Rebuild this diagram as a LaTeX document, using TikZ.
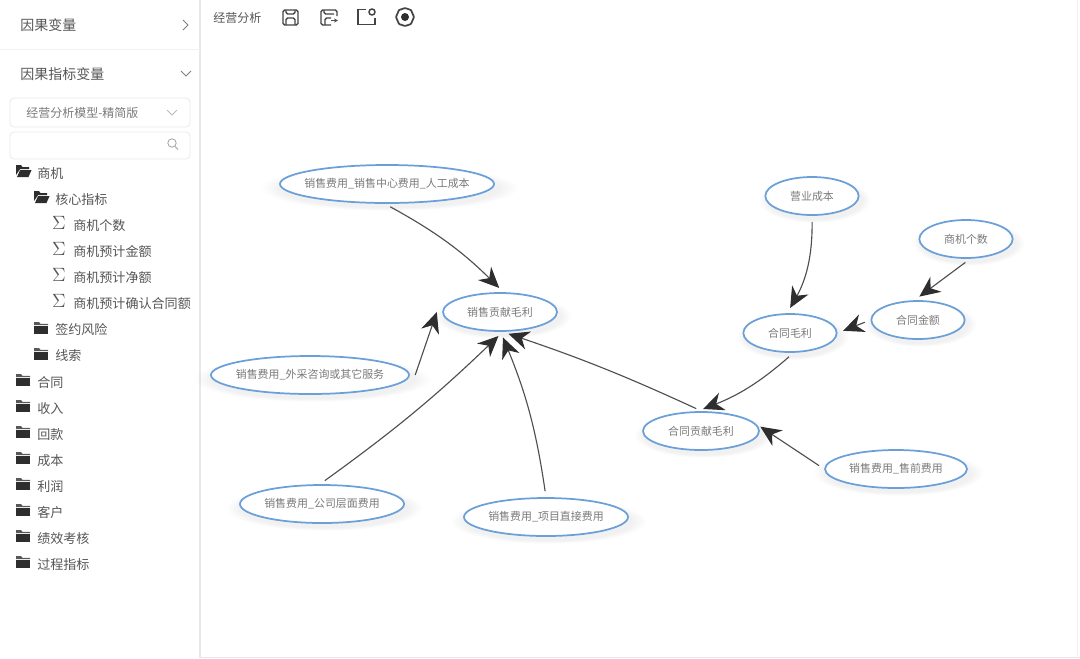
\documentclass[tikz,border=0pt]{standalone}
\usepackage{fontspec}
\setmainfont{Noto Sans CJK SC}
\usepackage{xcolor}
\usetikzlibrary{shapes.geometric,arrows.meta,shadows,fadings}
\definecolor{linkblue}{HTML}{6A9FD8}
\definecolor{edgegray}{HTML}{4F4F4F}
\definecolor{tipdark}{HTML}{2E2E2E}
\definecolor{labelgray}{HTML}{7A7A7A}
\definecolor{treegray}{HTML}{555555}
\definecolor{ruleline}{HTML}{E8E8E8}
\tikzset{
  factor/.style = {shape=ellipse, draw=linkblue, line width=1.3pt, fill=white,
                   inner xsep=-14pt, inner ysep=0pt, minimum height=28.5pt,
                   font=\fontsize{8.2}{10}\selectfont,
                   text=labelgray,
                   circular drop shadow={shadow xshift=1.5pt, shadow yshift=-2.5pt,
                     shadow scale=1.2, opacity=.11}},
  link/.style   = {draw=edgegray, line width=.85pt, shorten <=4.5pt, shorten >=4.5pt,
                   -{Stealth[length=15.5pt, width=14pt, inset=5pt, color=tipdark]}},
  treetext/.style = {anchor=west, inner sep=0pt, text=treegray, yshift=-.6pt,
                     font=\fontsize{9.8}{12}\selectfont},
  headtext/.style = {anchor=west, inner sep=0pt, text=treegray,
                     font=\fontsize{10.5}{13}\selectfont},
  chevron/.style  = {draw=gray, line width=.6pt},
  inputbox/.style = {draw=ruleline, rounded corners=3pt, line width=.6pt},
  toolicon/.style = {draw=treegray!80!black, line width=1.1pt, rounded corners=1.2pt},
  folder/.pic = {
    \fill[tipdark] (0,-2.2) -- (14,-2.2) -- (14,6) -- (0,6) -- cycle;
    \fill[tipdark!80!white] (0,-2.8) -- (0,-6) -- (5,-6) -- (6.5,-4.2) -- (14,-4.2) -- (14,-2.8) -- cycle;
  },
  openfolder/.pic = {
    \fill[tipdark] (0,4) -- (0,-6) -- (5,-6) -- (6.5,-4) -- (13,-4)
      -- (13,-1.8) -- (4,-1.8) -- cycle;
    \fill[tipdark] (4,-.8) -- (15.5,-.8) -- (12.5,6) -- (1,6) -- cycle;
  }
}
\begin{document}
\begin{tikzpicture}[x=.75pt, y=-.75pt]
  \useasboundingbox (0,0) rectangle (1080,658);
  % page frame
  \draw[ruleline, line width=.8pt] (200,0) -- (200,657.5) -- (1080,657.5);
  \draw[ruleline!60!white, line width=.6pt] (0,49) -- (200,49);
  \draw[ruleline!60!white, line width=.6pt] (1077,0) -- (1077,657);

  % side panel
  \node[headtext] (varhead) at (20,25) {因果变量};
  \node[headtext] (kpihead) at (20,74) {因果指标变量};
  \draw[chevron] (183,20) -- (188,25) -- (183,30);
  \draw[chevron] (181,71) -- (186,76) -- (191,71);
  \draw[inputbox] (10,98) rectangle (190,127);
  \draw[inputbox] (10,132) rectangle (190,159);
  \node[anchor=west, inner sep=0pt, text=labelgray, font=\fontsize{9}{11}\selectfont]
    (modelname) at (26,113) {经营分析模型-精简版};
  \draw[draw=ruleline!80!black, line width=.6pt] (167,110) -- (172,115) -- (177,110);
  \draw[draw=ruleline!70!black, line width=.6pt] (172,143) circle (4.2);
  \draw[draw=ruleline!70!black, line width=.6pt] (175,146.5) -- (178,149.5);

  % tree rows
  \foreach \rowname/\rowtext/\rowy in {
      r1/商机/173}
    \node[treetext] (\rowname) at (37,\rowy) {\rowtext};
  \foreach \rowname/\rowtext/\rowy in {
      s1/核心指标/199, s2/签约风险/329, s3/线索/355}
    \node[treetext] (\rowname) at (55,\rowy) {\rowtext};
  \foreach \rowname/\rowtext/\rowy in {
      m1/商机个数/225, m2/商机预计金额/251, m3/商机预计净额/277, m4/商机预计确认合同额/303} {
    \node[treetext] (\rowname) at (73,\rowy) {\rowtext};
    \node[anchor=center, inner sep=0pt, text=treegray, font=\fontsize{14}{14}\selectfont] (\rowname icon) at (59,\rowy-2) {$\Sigma$};
  }
  \foreach \rowname/\rowtext/\rowy in {
      c1/合同/382, c2/收入/408, c3/回款/434, c4/成本/460,
      c5/利润/486, c6/客户/512, c7/绩效考核/538, c8/过程指标/564}
    \node[treetext] (\rowname) at (37,\rowy) {\rowtext};

  % folder icons
  \pic at (16,171) {openfolder};
  \pic at (34,197) {openfolder};
  \foreach \rowy in {328,354}
    \pic at (34,\rowy) {folder};
  \foreach \rowy in {380,406,432,458,484,510,536,562}
    \pic at (16,\rowy) {folder};

  % toolbar
  \node[anchor=west, inner sep=0pt, text=treegray, font=\fontsize{9}{11}\selectfont]
    (toolname) at (213,18) {经营分析};
  \draw[toolicon] (283,10) rectangle (298,25);
  \draw[toolicon] (286,10) -- (286,14) -- (295,14) -- (295,10);
  \draw[toolicon] (286,25) -- (286,18) -- (295,18) -- (295,25);
  \draw[toolicon] (337,16) -- (337,10) -- (321,10) -- (321,25) -- (331,25);
  \draw[toolicon] (324,10) -- (324,14) -- (334,14);
  \draw[toolicon] (325,25) -- (325,18) -- (331,18);
  \draw[edgegray, line width=.8pt, -{Stealth[length=3pt,width=3pt]}] (331,20.5) -- (338,20.5);
  \draw[toolicon, rounded corners=0pt] (366,9.5) -- (358,9.5) -- (358,24.5) -- (375,24.5) -- (375,18);
  \draw[toolicon] (372,12) circle (3);
  \draw[toolicon, line width=1.3pt, rounded corners=.5pt] (405,8) -- (411,10) -- (414,17) -- (411,24)
    -- (405,26) -- (399,24) -- (396,17) -- (399,10) -- cycle;
  \fill[tipdark] (405,17) circle (4);

  % factor graph
  \node[factor, minimum width=160.5pt] (laborcost) at (387,184) {销售费用\_销售中心费用\_人工成本};
  \node[factor, minimum width=85.5pt] (salesmargin) at (500,312) {销售贡献毛利};
  \node[factor, minimum width=148.5pt] (consult) at (310,375) {销售费用\_外采咨询或其它服务};
  \node[factor, minimum width=123pt] (corpcost) at (322,504) {销售费用\_公司层面费用};
  \node[factor, minimum width=123pt] (projcost) at (546,517) {销售费用\_项目直接费用};
  \node[factor, minimum width=87pt] (contractsales) at (701,431) {合同贡献毛利};
  \node[factor, minimum width=70pt] (contractmargin) at (790,333) {合同毛利};
  \node[factor, minimum width=70pt] (opcost) at (812,196) {营业成本};
  \node[factor, minimum width=70pt] (contractamt) at (918,320) {合同金额};
  \node[factor, minimum width=70pt] (oppcount) at (966,239) {商机个数};
  \node[factor, minimum width=106.5pt] (presales) at (896,469) {销售费用\_售前费用};

  \draw[link] (laborcost.-96) to[bend left=8] (salesmargin.80);
  \draw[link, shorten <=0pt, shorten >=0pt] ([xshift=4pt]consult.east) -- ([xshift=-4pt]salesmargin.west);
  \draw[link] (corpcost.96) to[bend right=4] (salesmargin.-82);
  \draw[link] (projcost.north) to[bend right=7] (salesmargin.-88);
  \draw[link] (contractsales.88) to[bend right=3] (salesmargin.-82);
  \draw[link] (contractmargin.-80) to[bend left=10] (contractsales.100);
  \draw[link] (opcost.south) to[bend left=15] (contractmargin.98);
  \draw[link] (contractamt.west) -- (contractmargin.east);
  \draw[link] (oppcount.-78) -- (contractamt.100);
  \draw[link] (presales.west) -- (contractsales.8);
\end{tikzpicture}
\end{document}
